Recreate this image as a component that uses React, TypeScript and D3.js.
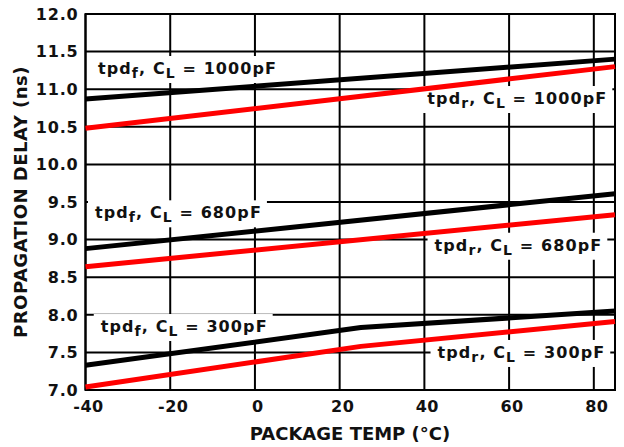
import React, { useEffect, useRef } from "react";
import * as d3 from "d3";

// ---- data (temperature in °C, delay in ns) ----
const tempsStraight = [-40, 85];
const tempsKinked = [-40, 25, 85];
const tpdF1000 = [10.87, 11.4];
const tpdR1000 = [10.48, 11.3];
const tpdF680 = [8.88, 9.61];
const tpdR680 = [8.64, 9.33];
const tpdF300 = [7.33, 7.83, 8.05];
const tpdR300 = [7.04, 7.58, 7.91];

const xTicks = [-40, -20, 0, 20, 40, 60, 80];
const yTicks = [7.0, 7.5, 8.0, 8.5, 9.0, 9.5, 10.0, 10.5, 11.0, 11.5, 12.0];

const seriesList = [
  { temps: tempsStraight, values: tpdF1000, color: "#000000" },
  { temps: tempsStraight, values: tpdR1000, color: "#ff0000" },
  { temps: tempsStraight, values: tpdF680, color: "#000000" },
  { temps: tempsStraight, values: tpdR680, color: "#ff0000" },
  { temps: tempsKinked, values: tpdF300, color: "#000000" },
  { temps: tempsKinked, values: tpdR300, color: "#ff0000" },
];

// label anchors in data units (temp, delay at baseline)
const labelEdges = ["f", "r", "f", "r", "f", "r"];
const labelLoads = ["1000pF", "1000pF", "680pF", "680pF", "300pF", "300pF"];
const labelTemps = [-37.05, 40.7, -37.76, 42.4, -36.4, 43.1];
const labelValues = [11.202, 10.803, 9.283, 8.852, 7.771, 7.426];

const W = 624;
const H = 447;
const FONT = "'DejaVu Sans', Verdana, sans-serif";

export default function App() {
  const ref = useRef<SVGSVGElement>(null);

  useEffect(() => {
    const svg = d3.select(ref.current);
    svg.selectAll("*").remove();

    const x = d3.scaleLinear().domain([-40, 85]).range([85.5, 615]);
    const y = d3.scaleLinear().domain([7, 12]).range([390, 14]);

    const grid = svg.append("g");
    // vertical gridlines
    grid
      .selectAll("line.v")
      .data(xTicks)
      .join("line")
      .attr("x1", (d) => x(d))
      .attr("x2", (d) => x(d))
      .attr("y1", y(12))
      .attr("y2", y(7))
      .attr("stroke", "#000")
      .attr("stroke-width", 2);
    grid
      .selectAll("line.h")
      .data(yTicks)
      .join("line")
      .attr("class", "h")
      .attr("x1", x(-40))
      .attr("x2", x(85))
      .attr("y1", (d) => y(d))
      .attr("y2", (d) => y(d))
      .attr("stroke", "#000")
      .attr("stroke-width", 2);

    // frame
    svg
      .append("rect")
      .attr("x", x(-40))
      .attr("y", y(12))
      .attr("width", x(85) - x(-40))
      .attr("height", y(7) - y(12))
      .attr("fill", "none")
      .attr("stroke", "#000")
      .attr("stroke-width", 2);

    // label boxes layer, then lines, then text
    const boxLayer = svg.append("g");
    const lineLayer = svg.append("g");
    const textLayer = svg.append("g");

    const line = d3
      .line<[number, number]>()
      .x((d) => x(d[0]))
      .y((d) => y(d[1]));

    seriesList.forEach((s) => {
      const pts = s.temps.map((t, i) => [t, s.values[i]] as [number, number]);
      lineLayer
        .append("path")
        .attr("d", line(pts) as string)
        .attr("fill", "none")
        .attr("stroke", s.color)
        .attr("stroke-width", 5)
        .attr("stroke-linejoin", "round");
    });

    labelEdges.forEach((edge, i) => {
      const t = textLayer
        .append("text")
        .attr("x", x(labelTemps[i]))
        .attr("y", y(labelValues[i]))
        .attr("font-family", FONT)
        .attr("font-weight", "bold")
        .attr("font-size", 16)
        .attr("letter-spacing", 1.1)
        .attr("fill", "#111");
      t.append("tspan").text("tpd");
      t.append("tspan").attr("dy", 4).attr("font-size", 14).text(edge);
      t.append("tspan").attr("dy", -4).text(", C");
      t.append("tspan").attr("dy", 4).attr("font-size", 14).text("L");
      t.append("tspan").attr("dy", -4).text(" = " + labelLoads[i]);
      const bb = (t.node() as SVGTextElement).getBBox();
      boxLayer
        .append("rect")
        .attr("x", bb.x - 7)
        .attr("y", bb.y - 3)
        .attr("width", bb.width + 12)
        .attr("height", bb.height + 5)
        .attr("fill", "#fff");
    });

    // tick labels
    svg
      .append("g")
      .selectAll("text")
      .data(yTicks)
      .join("text")
      .attr("x", x(-40) - 7)
      .attr("y", (d) => y(d))
      .attr("dy", "0.36em")
      .attr("text-anchor", "end")
      .attr("font-family", FONT)
      .attr("font-weight", "bold")
      .attr("font-size", 16)
      .attr("letter-spacing", 0.8)
      .attr("fill", "#111")
      .text((d) => d3.format(".1f")(d));

    svg
      .append("g")
      .selectAll("text")
      .data(xTicks)
      .join("text")
      .attr("x", (d) => x(d) + 3)
      .attr("y", 412)
      .attr("text-anchor", "middle")
      .attr("font-family", FONT)
      .attr("font-weight", "bold")
      .attr("font-size", 16)
      .attr("letter-spacing", 0.5)
      .attr("fill", "#111")
      .text((d) => String(d));

    // axis titles
    svg
      .append("text")
      .attr("x", 350)
      .attr("y", 440)
      .attr("text-anchor", "middle")
      .attr("font-family", FONT)
      .attr("font-weight", "bold")
      .attr("font-size", 18)
      .attr("fill", "#111")
      .text("PACKAGE TEMP (°C)");

    svg
      .append("text")
      .attr("transform", `translate(27, ${(y(7) + y(12)) / 2}) rotate(-90)`)
      .attr("text-anchor", "middle")
      .attr("font-family", FONT)
      .attr("font-weight", "bold")
      .attr("font-size", 18)
      .attr("letter-spacing", 0.5)
      .attr("fill", "#111")
      .text("PROPAGATION DELAY (ns)");
  }, []);

  return (
    <svg
      ref={ref}
      width={W}
      height={H}
      style={{ position: "absolute", left: 0, top: 0, background: "#fff" }}
    />
  );
}
